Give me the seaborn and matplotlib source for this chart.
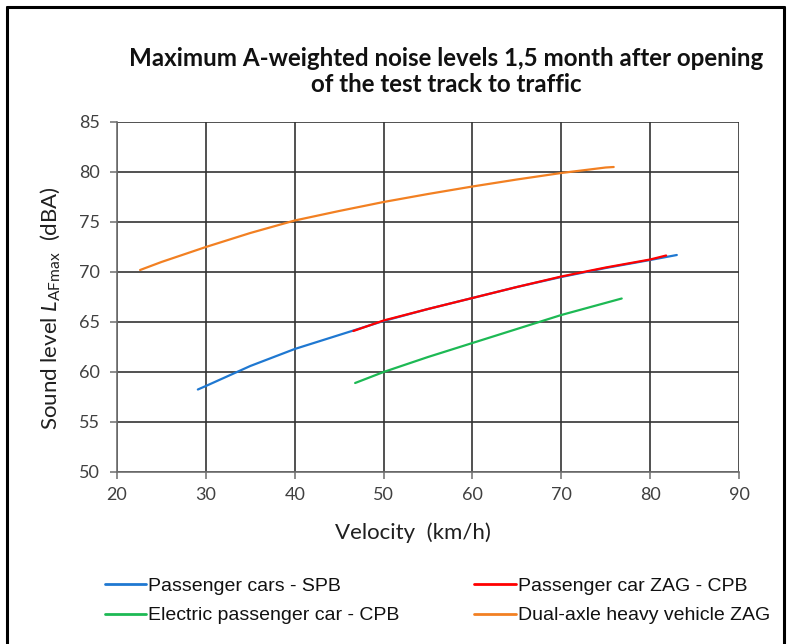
import matplotlib
matplotlib.use("Agg")
import matplotlib.pyplot as plt
import seaborn as sns
from matplotlib.lines import Line2D

# values
blue_x = [29.1, 30, 35, 40, 45, 50, 55, 60, 65, 70, 75, 80, 83]
blue_y = [58.25, 58.6, 60.6, 62.3, 63.7, 65.1, 66.3, 67.4, 68.5, 69.5, 70.4, 71.2, 71.7]
red_x = [46.6, 50, 55, 60, 65, 70, 75, 80, 81.8]
red_y = [64.1, 65.15, 66.3, 67.4, 68.5, 69.55, 70.45, 71.25, 71.65]
green_x = [46.8, 50, 55, 60, 65, 70, 76.8]
green_y = [58.9, 60.0, 61.5, 62.9, 64.3, 65.7, 67.35]
orange_x = [22.6, 25, 30, 35, 40, 45, 50, 55, 60, 65, 70, 75, 75.9]
orange_y = [70.2, 71.0, 72.5, 73.9, 75.15, 76.1, 77.0, 77.8, 78.55, 79.25, 79.9, 80.45, 80.5]

series_names = [
    "Passenger cars - SPB",
    "Electric passenger car - CPB",
    "Passenger car ZAG - CPB",
    "Dual-axle heavy vehicle ZAG",
]
series_colors = ["#1f78d1", "#1db954", "#ff0000", "#f28022"]

x_ticks = [20, 30, 40, 50, 60, 70, 80, 90]
y_ticks = [50, 55, 60, 65, 70, 75, 80, 85]

title_lines = [
    "Maximum A-weighted noise levels 1,5 month after opening",
    "of the test track to traffic",
]

TEXT_FONT = ["Lato", "DejaVu Sans"]
TICK_COLOR = "#404040"


def build_chart():
    sns.set_style("white")
    plt.rcParams["font.family"] = TEXT_FONT
    plt.rcParams["mathtext.fontset"] = "custom"
    plt.rcParams["mathtext.rm"] = "Lato"
    plt.rcParams["mathtext.it"] = "Lato:italic"

    fig = plt.figure(figsize=(7.9, 6.44), dpi=100)
    ax = fig.add_axes([117 / 790, 1 - 472 / 644, 622 / 790, 350 / 644])

    data = [
        (blue_x, blue_y),
        (green_x, green_y),
        (red_x, red_y),
        (orange_x, orange_y),
    ]
    # blue first so the red curve sits on top where they overlap
    for idx in [0, 2, 1, 3]:
        xs, ys = data[idx]
        sns.lineplot(x=xs, y=ys, sort=False, color=series_colors[idx],
                     linewidth=1.6, ax=ax, legend=False)

    ax.set_xlim(20, 90)
    ax.set_ylim(50, 85)
    ax.set_xticks(x_ticks)
    ax.set_yticks(y_ticks)
    ax.grid(True, color="#333333", linewidth=1.2)
    ax.set_axisbelow(True)
    for name, spine in ax.spines.items():
        spine.set_visible(name in ("left", "bottom"))
        spine.set_color("#6e6e6e")
        spine.set_linewidth(1.2)
    ax.tick_params(axis="both", direction="out", length=5, width=1.1,
                   color="#6e6e6e", labelcolor=TICK_COLOR, labelsize=13)
    ax.tick_params(axis="y", pad=7, left=True)
    ax.tick_params(axis="x", pad=6, bottom=True)

    ax.set_xlabel("Velocity  (km/h)", fontsize=16, color="#202020")
    ax.xaxis.set_label_coords(0.476, -0.145)
    ax.set_ylabel(r"Sound level $\mathit{L}_{\mathrm{AFmax}}$  (dBA)", fontsize=16, color="#202020")
    ax.yaxis.set_label_coords(-0.088, 0.469)

    for text, base_y in zip(title_lines, [66, 92]):
        fig.text(446 / 790, 1 - base_y / 644, text, ha="center", va="baseline",
                 fontsize=17.4, fontweight="bold", color="#111111")

    handles = [Line2D([], [], color=c, linewidth=2) for c in series_colors]
    fig.legend(handles, series_names, ncol=2, loc="center left",
               bbox_to_anchor=(87 / 790, 1 - 601 / 644), frameon=False,
               prop={"family": "Liberation Sans", "size": 14},
               handlelength=2.15, handletextpad=0.1, columnspacing=3.85,
               labelspacing=0.6, labelcolor="#111111")

    # black frame round the picture (open at the bottom)
    for xs, ys in [([7, 7], [0, 637]), ([7, 784], [637, 637]), ([784, 784], [637, 0])]:
        fig.add_artist(Line2D([v / 790 for v in xs], [v / 644 for v in ys],
                              color="black", linewidth=2.2))

    fig.savefig("out.png", dpi=100)
    plt.close(fig)


if __name__ == "__main__":
    build_chart()
